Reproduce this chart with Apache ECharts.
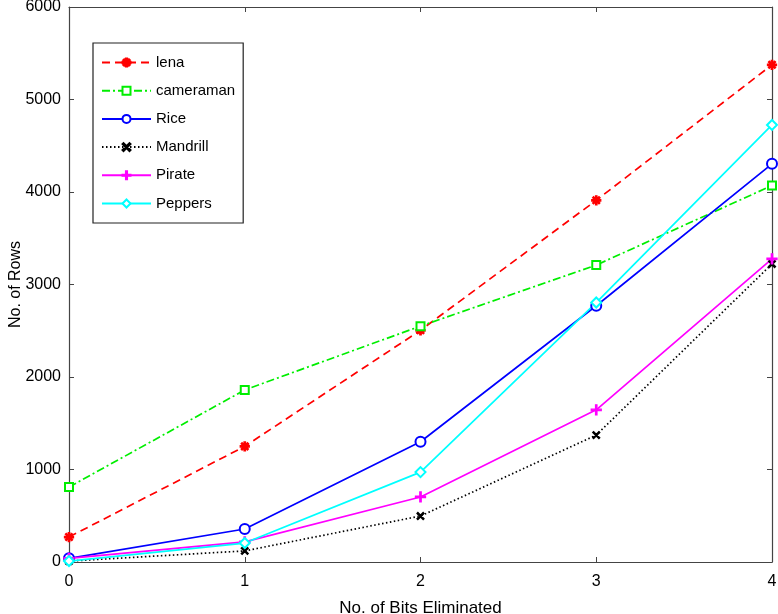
<!DOCTYPE html>
<html>
<head>
<meta charset="utf-8">
<script src="https://cdn.jsdelivr.net/npm/echarts@6/dist/echarts.min.js"></script>
<style>html,body{margin:0;padding:0;background:#fff;}#c{width:778px;height:614px;}</style>
</head>
<body>
<div id="c"></div>
<script>
const bits = [0, 1, 2, 3, 4];
const lena = [270, 1250, 2505, 3910, 5375];
const cameraman = [810, 1860, 2550, 3210, 4070];
const rice = [40, 357, 1300, 2770, 4305];
const mandrill = [10, 120, 497, 1372, 3222];
const pirate = [40, 218, 703, 1645, 3278];
const peppers = [10, 205, 972, 2805, 4725];
const yTicks = [0, 1000, 2000, 3000, 4000, 5000, 6000];

const asterisk = 'path://M-0.8,-5L0.8,-5L0.8,5L-0.8,5Z M-5,-0.8L5,-0.8L5,0.8L-5,0.8Z M-4,-3L-3,-4L4,3L3,4Z M3,-4L4,-3L-3,4L-4,3Z';
const plus = 'path://M-0.7,-5L0.7,-5L0.7,5L-0.7,5Z M-5,-0.7L5,-0.7L5,0.7L-5,0.7Z';
const cross = 'path://M-4,-3L-3,-4L4,3L3,4Z M3,-4L4,-3L-3,4L-4,3Z';

function pts(arr){ return bits.map((b,i)=>[b, arr[i]]); }
function mk(name, arr, color, type, symbol, size){
  return {
    name, type:'line', data: pts(arr), symbol, symbolSize: size,
    showAllSymbol: true,
    lineStyle:{color, width:1.7, type},
    itemStyle:{color, borderColor: color, borderWidth:1.3},
    emphasis:{disabled:true}, animation:false
  };
}
const chart = echarts.init(document.getElementById('c'), null, {renderer:'canvas'});
const axisLine = {show:true, onZero:false, lineStyle:{color:'#444', width:1.2}};
const tick = {show:true, inside:true, length:5, lineStyle:{color:'#444'}};
const font = 'Liberation Sans, Arial';
chart.setOption({
  animation:false,
  backgroundColor:'#fff',
  grid:{left:69, right:6, top:7, bottom:52, containLabel:false, outerBoundsMode:'none'},
  legend:{
    orient:'vertical', left:93, top:43,
    padding:[12,8,12,8], itemGap:13.2, itemWidth:49, itemHeight:10,
    borderColor:'#222', borderWidth:1.2, backgroundColor:'#fff',
    textStyle:{fontFamily:font, fontSize:15, color:'#000'},
    data:['lena','cameraman','Rice','Mandrill','Pirate','Peppers']
  },
  xAxis:[{
    type:'value', min:0, max:4, interval:1,
    name:'No. of Bits Eliminated', nameLocation:'middle', nameGap:38, nameMoveOverlap:false,
    nameTextStyle:{fontFamily:font, fontSize:17, color:'#000'},
    axisLine, axisTick:tick,
    axisLabel:{fontFamily:font, fontSize:16, color:'#000', margin:12},
    splitLine:{show:false}
  },{
    type:'value', min:0, max:4, interval:1, position:'top',
    axisLine, axisTick:tick,
    axisLabel:{show:false}, splitLine:{show:false}
  }],
  yAxis:[{
    type:'value', min:yTicks[0], max:yTicks[yTicks.length-1], interval:1000,
    name:'No. of Rows', nameLocation:'middle', nameGap:45, nameRotate:90, nameMoveOverlap:false,
    nameTextStyle:{fontFamily:font, fontSize:16, color:'#000'},
    axisLine, axisTick:tick,
    axisLabel:{fontFamily:font, fontSize:16, color:'#000', margin:8, formatter:(v)=>String(v)},
    splitLine:{show:false}
  },{
    type:'value', min:yTicks[0], max:yTicks[yTicks.length-1], interval:1000, position:'right',
    axisLine, axisTick:tick,
    axisLabel:{show:false}, splitLine:{show:false}
  }],
  series:[
    mk('lena', lena, '#ff0000', [8,5], asterisk, 9),
    mk('cameraman', cameraman, '#00ee00', [8,3,2,3], 'emptyRect', 8),
    mk('Rice', rice, '#0000ff', 'solid', 'emptyCircle', 10),
    mk('Mandrill', mandrill, '#000000', [1.5,2.5], cross, 7),
    mk('Pirate', pirate, '#ff00ff', 'solid', plus, 10),
    mk('Peppers', peppers, '#00ffff', 'solid', 'emptyDiamond', 10)
  ]
});
</script>
</body>
</html>
